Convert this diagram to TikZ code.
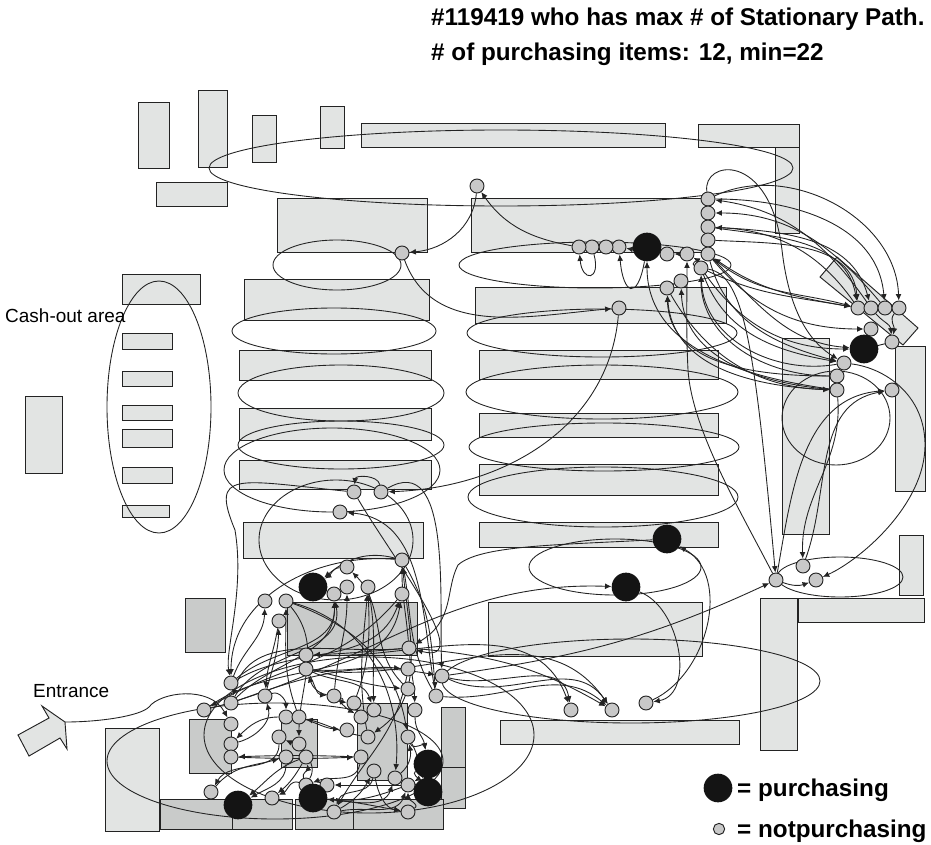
\documentclass[tikz,border=0pt]{standalone}
\usepackage{fontspec}
\setmainfont{Liberation Sans}
\usetikzlibrary{arrows.meta, backgrounds, calc}
\definecolor{grisito}{RGB}{226,228,227}
\definecolor{grisote}{RGB}{201,203,202}
\definecolor{bolita}{RGB}{200,200,200}
\definecolor{negrito}{RGB}{20,20,20}
\definecolor{trazo}{RGB}{35,35,35}
\tikzset{>={Latex[length=5.5pt,width=5pt]}}
\tikzset{
  shelf/.style={draw=trazo, fill=grisito, line width=0.8pt},
  shelfdark/.style={draw=trazo, fill=grisote, line width=0.8pt},
  zone/.style={draw=trazo, line width=0.75pt},
  walk/.style={draw=trazo, ->, line width=0.75pt},
  visit/.style={circle, draw=trazo, fill=bolita, line width=0.8pt, minimum size=0.42cm, inner sep=0pt},
  buy/.style={circle, fill=negrito, minimum size=0.86cm, inner sep=0pt},
  plain/.style={font=\fontsize{16.2}{18}\selectfont, inner sep=0pt, anchor=base west},
  strong/.style={font=\fontsize{20.7}{24}\selectfont\bfseries, inner sep=0pt, anchor=base west}
}

\begin{document}
\begin{tikzpicture}[x=0.03cm,y=-0.03cm]
  \useasboundingbox (0,0) rectangle (931,844);

  % Visits, grey
  \foreach \nm/\px/\py in {a1/354/492, a2/381/492, a3/340/512, b1/402/560, b2/347/567, b3/334/594, b4/347/587, b5/368/587, b6/402/594,
    c1/265/601, c2/286/601, c3/279/621, d1/306/655, d2/306/669, d3/409/648, d4/408/669, d5/408/689, e1/442/676, e2/436/696,
    f1/231/683, f2/231/703, f3/265/696, f4/204/710, g1/334/696, g2/354/703, g3/374/710, g4/361/717, g5/415/710,
    h1/286/717, h2/299/717, h3/231/724, h4/347/730, h5/368/737, h6/408/737, i1/279/737, i2/299/744, i3/231/744,
    j1/231/757, j2/286/757, j3/306/757, j4/361/757, k1/374/771, k2/395/778, k3/408/785, k4/306/785, k5/327/785,
    l1/211/792, l2/272/798, m1/334/812, m2/408/812,
    n1/708/199, n2/708/213, n3/708/227, n4/708/240, n5/708/254, n6/701/268, n7/687/254, n8/667/254,
    o1/619/247, o2/606/247, o3/592/247, o4/579/247, p1/681/281, p2/667/288, q1/619/308,
    r1/858/308, r2/871/308, r3/885/308, r4/899/308, r5/871/329, r6/892/342,
    s1/844/363, s2/837/376, s3/837/390, s4/892/390, t1/477/186, t2/402/253,
    u1/776/580, u2/803/566, u3/816/580, v1/571/710, v2/612/710, v3/646/703}
    \node[visit] (\nm) at (\px,\py) {};

  % Visits, purchasing
  \foreach \nm/\px/\py in {P1/313/587, P2/428/764, P3/428/792, P4/313/798, P5/238/805, P6/647/247, P7/864/349, P8/667/539, P9/626/587}
    \node[buy] (\nm) at (\px,\py) {};

  % Texts
  \node[strong] (head1) at (431,26) {\#119419 who has max \# of Stationary Path.};
  \node[strong] (head2) at (431,61) {\# of purchasing items: 12, min=22};
  \node[plain] (cash) at (5,322) {Cash-out area};
  \node[plain] (entrada) at (33,697) {Entrance};
  \node[buy] (keybuy) at (718,788) {};
  \node[visit, minimum size=0.34cm] (keyno) at (719,829) {};
  \node[strong] (keybuytext) at (737,796) {= purchasing};
  \node[strong] (keynotext) at (737,837) {= notpurchasing};
  \coordinate (entry) at (65,722);

  \begin{pgfonlayer}{background}
    % Shelves
    \foreach \xa/\ya/\xb/\yb in {138/102/169/168, 198/90/227/167, 252/115/276/162, 320/106/344/148, 361/123/665/147,
      775/147/799/233, 698/124/799/147, 156/182/227/206, 277/198/427/252, 471/198/708/252, 122/274/200/304,
      244/279/429/320, 475/287/726/323, 239/350/431/380, 479/350/718/379, 239/408/431/440, 479/413/718/437,
      239/460/431/489, 479/464/718/495, 243/522/423/558, 479/522/718/547,
      122/333/172/349, 122/371/172/386, 122/405/172/420, 122/429/172/447, 122/467/172/483, 122/505/169/517,
      25/396/62/473, 782/338/829/534, 895/346/925/491, 899/535/923/595, 798/598/924/622, 760/598/797/750,
      488/602/702/656, 500/720/739/744, 105/728/159/831}
      \draw[shelf] (\xa,\ya) rectangle (\xb,\yb);
    \draw[shelf] (820,277) -- (837,257) -- (918,328) -- (903,345) -- cycle;
    \foreach \xa/\ya/\xb/\yb in {185/598/225/652, 287/602/417/655, 189/719/231/773, 281/719/317/767, 357/703/407/780,
      441/707/465/767, 441/767/465/808, 160/799/232/829, 232/799/292/829, 295/799/353/829, 353/799/443/829}
      \draw[shelfdark] (\xa,\ya) rectangle (\xb,\yb);
    \draw[shelf] (18,735) -- (49,718) -- (42,706) -- (65,722) -- (67,749) -- (60,738) -- (29,756) -- cycle;

    % Zones
    \foreach \cx/\cy/\rx/\ry in {159/407/52/126, 501/168/292/38, 337/265/64/25, 595/265/136/23, 334/331/102/23, 602/333/135/24,
      341/393/103/28, 602/392/136/27, 341/445/103/24, 604/447/135/24, 332/470/108/42, 603/497/135/30, 615/567/86/28,
      336/540/77/60, 836/418/54/47, 840/577/63/20, 631/681/189/42, 275/761/168/58, 369/735/165/78}
      \draw[zone] (\cx,\cy) ellipse (\rx cm*0.03 and \ry cm*0.03);

    % Walks round the top right corner
    \foreach \a/\b/\o/\i in {n1/r4/25/92, n1/r3/0/95, r2/n1/125/-8, r3/n2/130/0, r1/n3/125/-3, n3/r2/-3/105, n3/r1/-8/100, n4/r1/-3/95,
      n5/r1/-40/165, n5/r5/-50/180, n6/P7/-55/180, n6/r1/-25/170, n5/s1/-75/165, n6/s1/-70/170, r1/n5/170/-35, r2/r6/-50/95, r4/r6/-130/80,
      s1/n6/190/-88, s2/n6/180/-90, s3/p1/175/-88, s2/p2/180/-88, s3/p2/178/-86, s3/P6/172/-90, p2/s3/-60/178,
      n7/n8/180/0, n6/n7/160/-30, p2/p1/30/210, o1/o3/180/0, P6/o1/190/-10}
      \draw[walk] (\a) to[out=\o,in=\i] (\b);
    \draw[walk] (n1) .. controls (702,160) and (770,150) .. (782,250) .. controls (790,320) and (815,345) .. (s1);
    \draw[walk] (o3) to[out=-75,in=-85,looseness=5] (o4);
    \draw[walk] (P6) to[out=-100,in=-85,looseness=4] (o1);
    \draw[walk] (n5) to[out=-45,in=175] (P7);
    \draw[trazo, line width=0.75pt] (P7) -- (r6);
    \draw[walk] (u1) .. controls (740,510) and (692,430) .. (688,370) .. controls (686,330) and (687,300) .. (n7);
    \draw[walk] (n6) .. controls (745,275) and (755,350) .. (u1);

    % Walks through the middle
    \foreach \a/\b/\o/\i in {o4/t1/170/-55, t1/t2/-95/5, t2/q1/-70/185, q1/a2/-95/2, s3/u2/-85/92, u1/s4/80/185, u2/s4/70/190,
      u1/u3/-20/200, a2/a1/100/85, e1/u1/8/205, f4/P9/15/178, P9/v3/-20/10, v3/P8/25/-30,
      d1/v1/-3/110, d2/v2/-8/125, e1/v1/-15/100, e2/v2/-5/140, d3/v2/-5/150, e1/v2/-25/125}
      \draw[walk] (\a) to[out=\o,in=\i] (\b);
    \draw[walk] (s1) .. controls (885,368) and (925,395) .. (925,445) .. controls (925,505) and (860,560) .. (u3);
    \draw[walk] (P8) .. controls (560,545) and (480,545) .. (458,565) .. controls (445,590) and (455,620) .. (d3);

    % Walks in the bottom left part
    \foreach \a/\b/\o/\i in {a1/d3/-60/-15, e2/a3/100/-5, a2/e1/30/92, b1/e2/-60/95, d3/b1/95/-90, d5/b2/135/-45, b1/P1/165/40, b2/P1/185/35,
      f1/c1/70/-92, h2/c2/110/-90, f3/c3/75/-92, c3/f3/-100/85, f1/b3/40/-88, f2/b3/45/-88, f2/b3/60/-80, g1/b4/85/-90, g2/b5/70/-88, h5/b5/100/-95,
      f4/b6/35/-100, f1/b6/30/-110, b1/f1/175/90, d3/f2/185/75, b6/f4/-130/30, f3/h1/20/90,
      h1/i3/180/45, i3/f3/15/-75, k4/i1/60/-25, c2/i2/-50/90, h5/h2/170/-15, d2/g1/-60/175, g1/d2/170/-70,
      d3/d1/185/2, d2/d4/-5/175, d2/d5/-12/175, g1/g2/-15/175, g1/g4/-45/150, b5/g3/-80/92, d2/g3/-25/110, h2/h4/-20/175,
      b1/h5/-85/35, d3/g5/-85/92, c2/h6/-20/100, g5/P2/-90/100, h6/P2/-70/100, h6/P3/-60/110, j1/j4/-2/182, j4/j1/178/2,
      l1/j2/50/195, i1/l1/-90/60, j2/P5/-90/30, j3/P5/200/40, k4/j3/110/-80, k4/l2/160/25, j3/l2/-120/40, j4/k4/-100/20,
      k3/k5/180/0, m1/k1/30/-120, P4/k2/-5/-110, k3/P4/200/-5, k1/m1/-100/70, P4/m2/-5/170, k1/m2/-80/170, c2/k2/-15/85,
      f2/e1/20/170, e2/b1/120/-80, d4/m1/-100/60, k2/h6/40/-80, k3/P3/10/170, m2/k3/30/-90, m1/k3/10/-110, P2/k3/-150/30}
      \draw[walk] (\a) to[out=\o,in=\i] (\b);
    \draw[walk] (entry) .. controls (100,722) and (140,716) .. (149,707) .. controls (160,692) and (210,685) .. (h3);
    \draw[walk] (a1) .. controls (236,480) and (210,470) .. (235,530) .. controls (245,590) and (225,650) .. (f1);
  \end{pgfonlayer}
\end{tikzpicture}
\end{document}
